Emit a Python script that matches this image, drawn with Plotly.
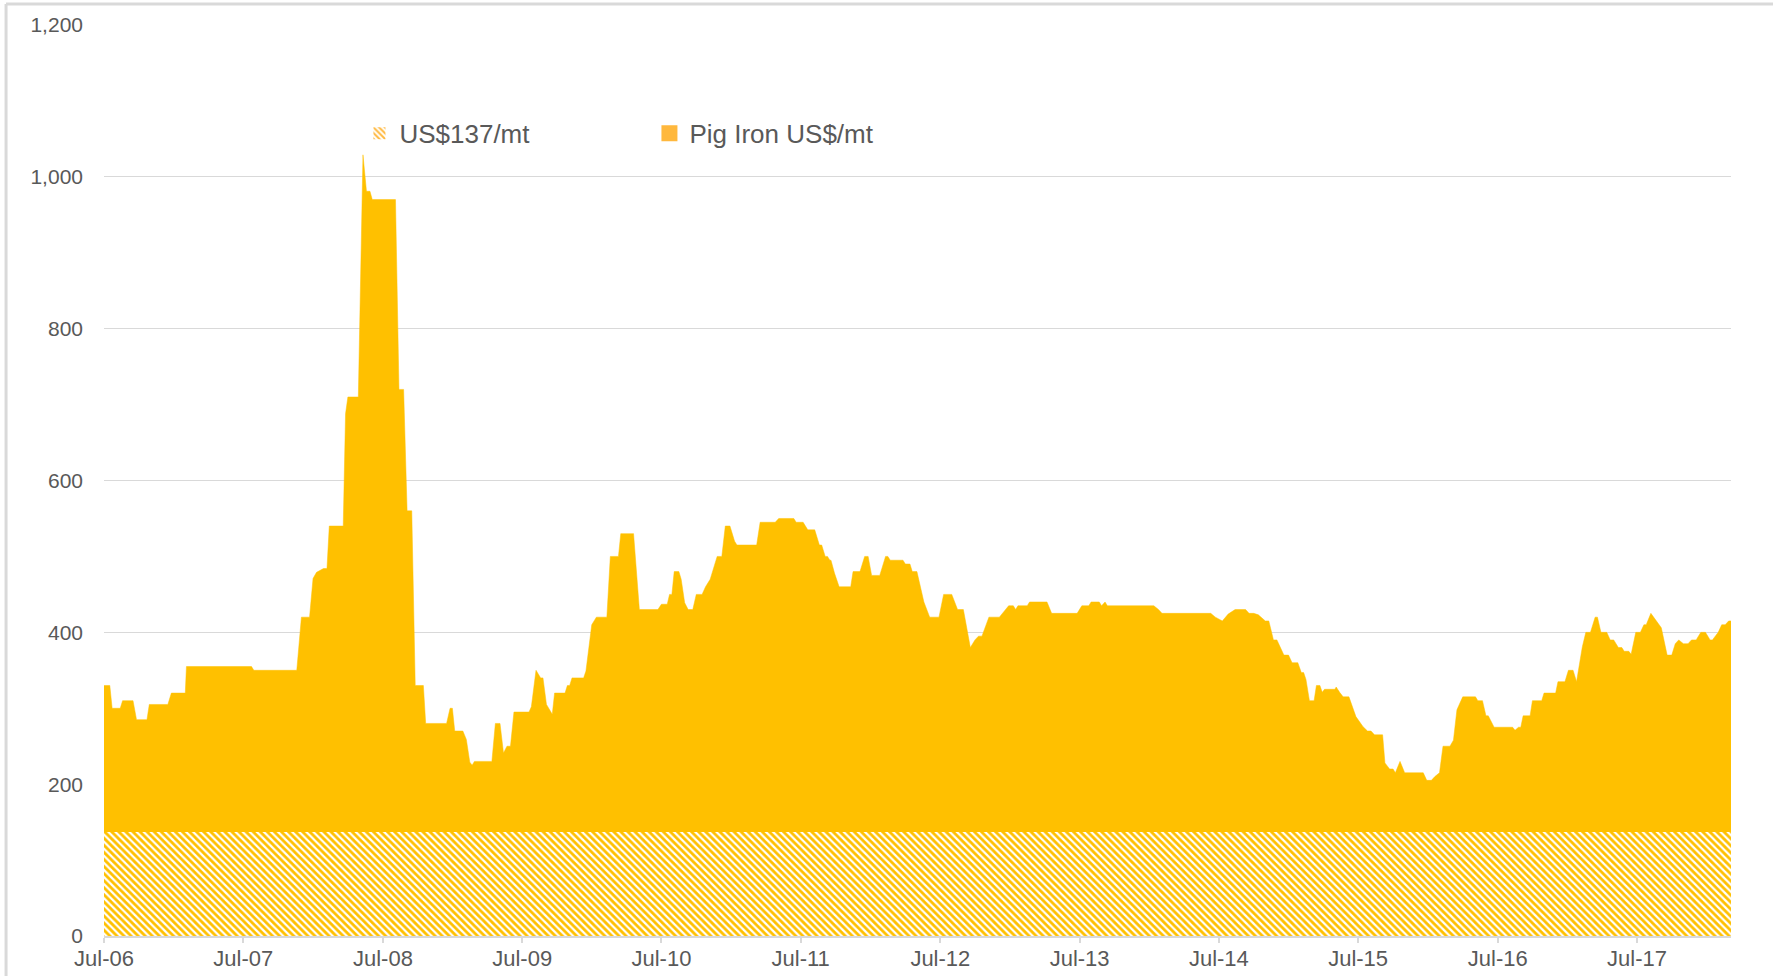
import pandas as pd
import plotly.graph_objects as go

# Time of each reading, in months elapsed since 1 Jul 2006
months = [
    0, 0.5, 0.7, 1.4, 1.6, 2.5, 2.8, 3.7, 3.9, 5.5, 5.8, 7.0, 7.1, 12.7, 12.9, 16.6,
    17.0, 17.7, 18.0, 18.3, 18.9, 19.2, 19.4, 20.6, 20.8, 21.0, 21.9, 22.3, 22.6, 22.9,
    23.1, 25.1, 25.4, 25.8, 26.1, 26.5, 26.8,
    27.5, 27.7, 29.5, 29.8, 30.0, 30.2, 30.9, 31.2, 31.5, 31.7, 31.9, 33.4, 33.7, 34.1,
    34.4, 34.7, 35.0, 35.3, 36.6, 36.8, 37.2, 37.6, 37.8, 38.1, 38.6, 38.8, 39.7, 39.9,
    40.1, 40.3, 41.3, 41.5, 42.0, 42.4, 43.3, 43.6, 44.3, 44.5, 45.6, 46.1, 47.7, 48.0,
    48.5, 48.7, 48.9, 49.1, 49.5, 49.7, 50.0, 50.3, 50.7, 51.0, 51.5, 51.8, 52.2, 52.8,
    53.2, 53.5, 53.9, 54.3, 54.5,
    56.2, 56.5, 57.8, 58.1, 59.4, 59.6, 60.2, 60.6, 61.2, 61.6, 61.8, 62.1, 62.3, 62.5,
    62.6, 62.9, 63.3, 64.3, 64.5, 65.1, 65.5, 65.8, 66.1, 66.8, 67.3, 67.5, 67.7, 68.8,
    69.0, 69.4, 69.6, 70.0, 70.6, 71.1, 71.9, 72.3, 73.0, 73.5, 74.0, 74.6, 75.0, 75.3,
    75.6, 76.2, 77.1, 77.9, 78.3, 78.5, 78.7, 79.5, 79.7, 81.2, 81.6,
    83.8, 84.2, 84.8, 85.0, 85.7, 85.9, 86.2, 86.4, 90.4, 90.8, 91.1, 95.3, 95.7, 96.3,
    96.8, 97.4, 98.3, 98.6, 99.0, 99.4, 100.0, 100.3, 100.7, 101.0, 101.6, 102.0, 102.3,
    102.8, 103.1, 103.3, 103.5, 103.8, 104.2, 104.4, 104.7, 104.9, 105.1, 106.0, 106.1,
    106.4, 106.7, 107.2, 107.8, 108.4, 108.8, 109.1, 109.4,
    110.1, 110.3, 110.7, 111.0, 111.2, 111.6, 112.0, 113.6, 113.9, 114.3, 114.6, 115.0,
    115.3, 115.9, 116.2, 116.5, 117.0, 118.1, 118.3, 118.7, 119.0, 119.2, 119.7, 121.3,
    121.5, 121.8, 122.0, 122.2, 122.8, 123.0, 123.8, 124.0, 125.0, 125.2, 125.8, 126.1,
    126.5, 126.8, 127.3, 127.6, 128.0, 128.4, 128.6, 128.9, 129.4, 129.7, 130.0, 130.4,
    130.7, 130.9, 131.3, 131.5, 131.9, 132.3, 132.6, 132.8, 133.2, 134.1, 134.6, 135.0,
    135.3, 135.6, 136.0, 136.4, 136.7, 137.1, 137.5, 137.9, 138.3, 138.5, 139.0, 139.3,
    139.6, 139.9, 140.1,
]

# Pig iron price, US$/mt
pig_iron = [
    330, 330, 300, 300, 310, 310, 285, 285, 305, 305, 320, 320, 355, 355, 350, 350,
    420, 420, 471, 479, 484, 484, 540, 540, 688, 710, 710, 1029, 981, 981,
    970, 970, 720, 720, 560, 560, 330,
    330, 280, 280, 300, 300, 270, 270, 259, 229, 225, 230, 230, 280, 280,
    241, 250, 250, 295, 295, 302, 350, 340, 340, 305, 292, 320, 320, 330,
    330, 340, 340, 349, 410, 420, 420, 500, 500, 530, 530, 430, 430, 437,
    437, 450, 450, 480, 480, 470, 439, 430, 430, 450, 450, 460, 470, 500,
    500, 540, 540, 520, 515,
    515, 545, 545, 550, 550, 545, 545, 535, 535, 515, 515, 500, 500, 495,
    495, 478, 460, 460, 480, 480, 500, 500, 475, 475, 500, 500, 495, 495,
    490, 490, 480, 480, 440, 420, 420, 450, 450, 430, 430, 380, 390, 395,
    395, 420, 420, 435, 435, 430, 435, 435, 440, 440, 425,
    425, 435, 435, 440, 440, 435, 440, 435, 435, 430, 425, 425, 420, 415,
    424, 430, 430, 425, 425, 423, 415, 415, 390, 390, 370, 370, 360,
    360, 347, 347, 338, 310, 310, 330, 330, 321, 325, 325, 328,
    321, 315, 315, 289, 276, 270, 270, 265,
    265, 228, 220, 220, 215, 230, 215, 215, 205, 205, 210, 215,
    250, 250, 258, 298, 315, 315, 310, 310, 290, 290, 275, 275,
    271, 275, 275, 290, 290, 310, 310, 320, 320, 335, 335, 350,
    350, 335, 381, 400, 400, 420, 420, 400, 400, 390, 390, 380,
    380, 375, 375, 371, 400, 400, 410, 410, 425, 406, 370, 370,
    385, 390, 385, 385, 390, 390, 400, 400, 390, 390, 400, 410,
    410, 415, 415,
]

threshold_value = 137
series_names = ["US$137/mt", "Pig Iron US$/mt"]
y_ticks = [0, 200, 400, 600, 800, 1000, 1200]

start = pd.Timestamp("2006-07-01")
dates = [start + pd.to_timedelta(m * 30.4375, unit="D") for m in months]
threshold = [threshold_value for _ in dates]

GOLD = "#FFC000"
LEG = "#FFB83D"
TEXT = "#595959"
GRID = "#D9D9D9"
FONT = "Liberation Sans, Arial, sans-serif"

fig = go.Figure()

fig.add_trace(go.Scatter(
    x=dates, y=pig_iron, mode="lines", fill="tozeroy",
    line=dict(color=GOLD, width=0.5, shape="linear"), fillcolor=GOLD,
    showlegend=False, hoverinfo="x+y",
))
fig.add_trace(go.Scatter(
    x=dates, y=threshold, mode="lines", fill="tozeroy",
    line=dict(width=0), fillcolor=GOLD,
    fillpattern=dict(shape="\\", fgcolor=GOLD, fgopacity=1, bgcolor="#FFFFFF",
                     size=5, solidity=0.55, fillmode="replace"),
    showlegend=False, hoverinfo="skip",
))

# legend entries
fig.add_trace(go.Bar(
    x=[None], y=[None], name=series_names[0],
    marker=dict(color=LEG, line=dict(width=0),
                pattern=dict(shape="\\", fgcolor=LEG, fgopacity=1, bgcolor="#FFFFFF",
                             size=5, solidity=0.5, fillmode="replace")),
))
fig.add_trace(go.Bar(
    x=[None], y=[None], name=series_names[1],
    marker=dict(color=LEG, line=dict(width=4, color=LEG)),
))

fig.update_layout(
    width=1773, height=976,
    margin=dict(l=104, r=42, t=25, b=40, autoexpand=False),
    paper_bgcolor="white", plot_bgcolor="white",
    font=dict(family=FONT, color=TEXT),
    legend=dict(
        orientation="h", x=0.157, y=0.881, xanchor="left", yanchor="middle",
        font=dict(size=26, color=TEXT, family=FONT), bgcolor="rgba(0,0,0,0)",
        entrywidth=245, entrywidthmode="pixels", traceorder="normal",
    ),
    shapes=[
        dict(type="line", xref="paper", yref="paper", x0=-0.0602, x1=1.03,
             y0=1.0231, y1=1.0231, line=dict(color=GRID, width=3)),
        dict(type="line", xref="paper", yref="paper", x0=-0.0602, x1=-0.0602,
             y0=-0.05, y1=1.0231, line=dict(color=GRID, width=3)),
    ],
)

fig.update_xaxes(
    type="date", range=[dates[0], dates[-1]],
    tick0="2006-07-01", dtick="M12", tickformat="%b-%y",
    showgrid=False, showline=True, linecolor=GRID, linewidth=1.5,
    ticks="outside", ticklen=5, tickcolor=GRID, tickwidth=1.5,
    tickfont=dict(size=22, color=TEXT, family=FONT), ticklabelstandoff=-3,
    zeroline=False,
)
fig.update_yaxes(
    range=[0, 1200], tickvals=y_ticks, tickformat=",",
    showgrid=True, gridcolor=GRID, gridwidth=1.2,
    showline=False, zeroline=False, ticks="",
    tickfont=dict(size=21, color=TEXT, family=FONT), ticklabelstandoff=20,
)

fig.write_html(
    "out.html",
    config={"displayModeBar": False},
    post_script="document.body.style.margin='0';document.body.style.overflow='hidden';",
)
